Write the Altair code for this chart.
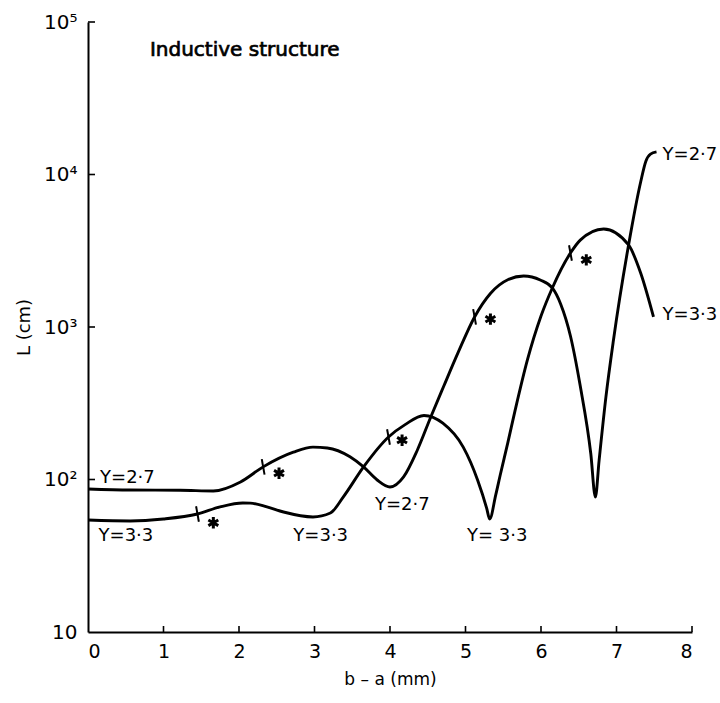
import altair as alt
import pandas as pd

# ---- data ----
x_27 = [0.00, 0.56, 1.22, 1.66, 2.02, 2.32, 2.72, 2.98, 3.17, 3.47, 3.65, 3.83, 4.00, 4.18,
        4.36, 4.54, 4.71, 4.90, 5.12, 5.33, 5.56, 5.77, 5.99, 6.15, 6.26, 6.39, 6.52, 6.66,
        6.72, 6.77, 6.86, 6.96, 7.16, 7.32, 7.39, 7.45, 7.53]
L_27 = [86.7, 85.3, 85.1, 84.1, 96.4, 121, 151, 163, 161, 141, 121, 99.3, 89.3, 104,
        155, 257, 407, 676, 1164, 1660, 2042, 2158, 2032, 1803, 1416, 873, 410, 147,
        76.7, 134, 348, 822, 3451, 8933, 12274, 13614, 14060]

x_33 = [0.00, 0.56, 1.00, 1.45, 1.75, 2.05, 2.15, 2.37, 2.59, 2.98, 3.21, 3.38, 3.65, 3.98,
        4.20, 4.45, 4.70, 4.97, 5.16, 5.28, 5.32, 5.40, 5.46, 5.56, 5.66, 5.82, 6.00, 6.15,
        6.39, 6.52, 6.83, 7.16, 7.32, 7.49]
L_33 = [54.2, 53.5, 55.1, 59.4, 66.1, 70.1, 70.0, 66.1, 61.2, 56.8, 60.3, 76.7, 121, 190,
        229, 263, 234, 163, 99.3, 65, 55.1, 79, 107, 174, 288, 608, 1180, 1803,
        3055, 3715, 4395, 3451, 2259, 1164]

# marked points (short bars on the curves) and the asterisks beside them
mark_x = [1.45, 2.32, 3.98, 5.12, 6.39]
mark_L = [59.4, 121, 190, 1164, 3055]
star_x = [1.66, 2.53, 4.16, 5.33, 6.60]
star_L = [52, 110, 181, 1127, 2754]

# curve labels
lab_text = ["Y=2·7", "Y=3·3", "Y=3·3", "Y=2·7", "Y= 3·3", "Y=2·7", "Y=3·3"]
lab_x = [0.16, 0.14, 2.72, 3.80, 5.02, 7.61, 7.61]
lab_L = [102, 42.7, 42.7, 68, 42.7, 13430, 1200]

title_text = ["Inductive structure"]
title_x = [0.82]
title_L = [65500]

x_ticks = [1, 2, 3, 4, 5, 6, 7, 8]
y_ticks = [100, 1000, 10000, 100000]
y_labels = [10, 100, 1000, 10000, 100000]

# ---- tables ----
lines = pd.concat([
    pd.DataFrame({"x": x_27, "L": L_27, "series": "Y=2.7"}),
    pd.DataFrame({"x": x_33, "L": L_33, "series": "Y=3.3"}),
])
marks = pd.DataFrame({"x": mark_x, "L": mark_L})
stars = pd.DataFrame({"x": star_x, "L": star_L})
labels = pd.DataFrame({"x": lab_x, "L": lab_L, "t": lab_text})
title = pd.DataFrame({"x": title_x, "L": title_L, "t": title_text})
xt = pd.DataFrame({"v": x_ticks})
yt = pd.DataFrame({"v": y_ticks})

W, H = 604, 610
FONT = "DejaVu Sans"

xs = alt.Scale(domain=[0, 8], nice=False, zero=False)
ys = alt.Scale(type="log", domain=[10, 100000], nice=False)

x_axis = alt.Axis(values=list(range(0, 9)), format="d", ticks=False, tickSize=0,
                  labelPadding=10, grid=False, title="b – a (mm)", titlePadding=10,
                  titleFontWeight="normal", titleFontSize=17, labelFontSize=19)
y_axis = alt.Axis(values=y_labels, ticks=False, tickSize=0, labelPadding=11, grid=False,
                  labelExpr="datum.value == 10 ? '10' : datum.value == 100 ? '10²' : "
                            "datum.value == 1000 ? '10³' : datum.value == 10000 ? '10⁴' : '10⁵'",
                  title="L (cm)", titlePadding=10, titleFontWeight="normal",
                  titleFontSize=18, labelFontSize=20)

base_lines = alt.Chart(lines).mark_line(
    interpolate="monotone", color="black", strokeWidth=2.9
).encode(
    x=alt.X("x:Q", scale=xs, axis=x_axis),
    y=alt.Y("L:Q", scale=ys, axis=y_axis),
    detail="series:N",
)

tick_path = "M-0.18,-1L0.18,1"
mark_layer = alt.Chart(marks).mark_point(
    shape=tick_path, filled=False, stroke="black", strokeWidth=2, size=240, opacity=1
).encode(x=alt.X("x:Q", scale=xs), y=alt.Y("L:Q", scale=ys))

ast_path = "M0,-1L0,1M-0.87,-0.5L0.87,0.5M-0.87,0.5L0.87,-0.5"
star_layer = alt.Chart(stars).mark_point(
    shape=ast_path, filled=False, stroke="black", strokeWidth=3, size=130, opacity=1
).encode(x=alt.X("x:Q", scale=xs), y=alt.Y("L:Q", scale=ys))

label_layer = alt.Chart(labels).mark_text(
    align="left", baseline="middle", fontSize=18, font=FONT, color="black"
).encode(x=alt.X("x:Q", scale=xs), y=alt.Y("L:Q", scale=ys), text="t:N")

title_layer = alt.Chart(title).mark_text(
    align="left", baseline="middle", fontSize=20, font=FONT, color="black",
    stroke="black", strokeWidth=0.7
).encode(x=alt.X("x:Q", scale=xs), y=alt.Y("L:Q", scale=ys), text="t:N")

xtick_layer = alt.Chart(xt).mark_rule(color="black", strokeWidth=1.6).encode(
    x=alt.X("v:Q", scale=xs), y=alt.value(H), y2=alt.value(H - 6))
ytick_layer = alt.Chart(yt).mark_rule(color="black", strokeWidth=1.6).encode(
    y=alt.Y("v:Q", scale=ys), x=alt.value(0), x2=alt.value(7))

chart = alt.layer(
    base_lines, mark_layer, star_layer, label_layer, title_layer, xtick_layer, ytick_layer
).properties(
    width=W, height=H,
    autosize=alt.AutoSizeParams(type="none"),
    padding={"left": 88, "top": 22, "right": 28, "bottom": 71},
    background="white",
).configure_view(
    stroke=None
).configure_axis(
    domainColor="black", domainWidth=2, labelColor="black", titleColor="black",
    labelFont=FONT, titleFont=FONT,
)

chart.save("out.html", embed_options={"renderer": "svg", "actions": False})
